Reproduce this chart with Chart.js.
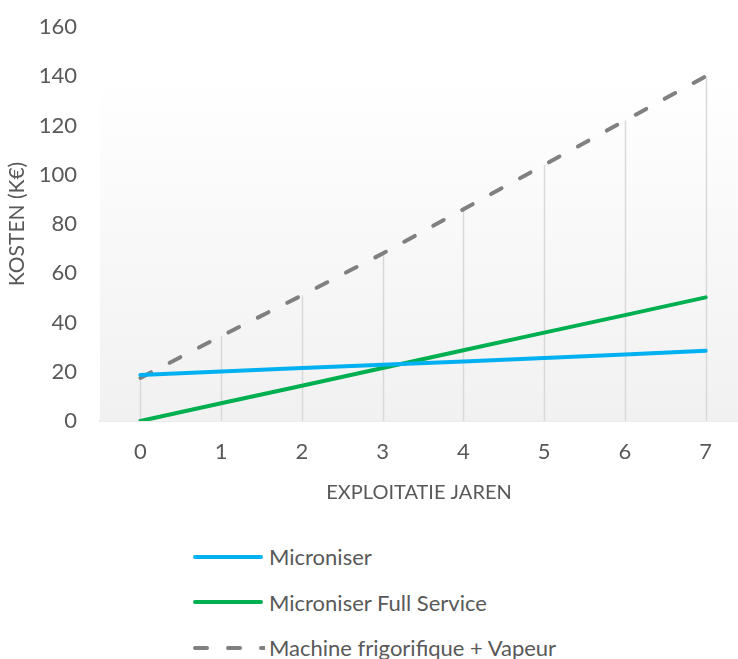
<!DOCTYPE html>
<html>
<head>
<meta charset="utf-8">
<script src="https://cdn.jsdelivr.net/npm/chart.js@4/dist/chart.umd.min.js"></script>
<style>
  html,body{margin:0;padding:0;background:#fff;}
  #wrap{position:relative;width:738px;height:659px;overflow:hidden;}
  #cv{position:absolute;left:0;top:0;}
  #legend{position:absolute;left:193px;top:534px;font-family:Lato,sans-serif;font-size:22px;color:#595959;}
  .li{display:flex;align-items:center;height:45.5px;}
  .li svg{margin-right:4px;}
</style>
</head>
<body>
<div id="wrap">
  <canvas id="cv" width="738" height="525"></canvas>
  <div id="legend"></div>
</div>
<script>
const years = [0,1,2,3,4,5,6,7];
const yTicks = [0,20,40,60,80,100,120,140,160];
const microniser = [18.7,20.1,21.5,22.8,24.2,25.6,27.0,28.5];
const fullService = [0,7.2,14.3,21.5,28.7,35.9,43.0,50.2];
const machine = [17.5,34.5,51,68,86,104,122,140];

const names = ['Microniser','Microniser Full Service','Machine frigorifique + Vapeur'];
const colors = ['#00b0f0','#00b050','#808080'];
const DASH = [12,21];
const FONT = 'Lato';
const TXT = '#595959';

const pts = arr => arr.map((v,i)=>({x:years[i],y:v}));

// plot background + drop lines from the dashed series
const backdrop = {
  id:'backdrop',
  beforeDatasetsDraw(chart){
    const {ctx, chartArea:a, scales:{x,y}} = chart;
    const top = y.getPixelForValue(140);
    const g = ctx.createLinearGradient(0,top,0,a.bottom);
    g.addColorStop(0,'#ffffff'); g.addColorStop(1,'#f1f1f1');
    ctx.save();
    ctx.fillStyle=g;
    ctx.fillRect(a.left,top,a.right-a.left,a.bottom-top);
    ctx.strokeStyle='#d9d9d9'; ctx.lineWidth=1.5;
    machine.forEach((v,i)=>{
      const px=Math.round(x.getPixelForValue(years[i]))+0.5;
      ctx.beginPath(); ctx.moveTo(px,y.getPixelForValue(v)); ctx.lineTo(px,a.bottom); ctx.stroke();
    });
    ctx.restore();
  }
};

new Chart(document.getElementById('cv'),{
  type:'line',
  data:{datasets:[microniser,fullService,machine].map((d,i)=>({
    label:names[i], data:pts(d), borderColor:colors[i], backgroundColor:colors[i],
    borderWidth:4, pointRadius:0, tension:0, borderCapStyle:'round',
    borderDash:i===2?DASH:[]
  }))},
  options:{
    responsive:false, animation:false,
    layout:{padding:{top:27,right:0,left:0,bottom:0}},
    plugins:{legend:{display:false},tooltip:{enabled:false}},
    scales:{
      x:{type:'linear',min:-0.5,max:7.4,
        afterBuildTicks:s=>{s.ticks=years.map(v=>({value:v}));},
        afterFit:s=>{s.height=104;},
        grid:{display:true,color:'rgba(0,0,0,0)',drawTicks:false},
        border:{display:true,color:'#d9d9d9',width:1.5},
        ticks:{padding:18,font:{family:FONT,size:22},color:TXT,callback:v=>String(v),maxRotation:0},
        title:{display:true,text:'EXPLOITATIE JAREN',font:{family:FONT,size:20},color:TXT,padding:{top:10,bottom:20}}
      },
      y:{min:0,max:160,
        afterBuildTicks:s=>{s.ticks=yTicks.map(v=>({value:v}));},
        afterFit:s=>{s.width=100; s.paddingTop=0; s.paddingBottom=0;},
        grid:{display:false,drawTicks:false},
        border:{display:false},
        ticks:{padding:23,font:{family:FONT,size:22},color:TXT},
        title:{display:true,text:'KOSTEN (K€)',font:{family:FONT,size:21},color:TXT,padding:{top:5,bottom:0}}
      }
    }
  },
  plugins:[backdrop]
});

// vertical legend
const lg=document.getElementById('legend');
names.forEach((n,i)=>{
  const row=document.createElement('div'); row.className='li';
  const dash=i===2?`stroke-dasharray="${DASH.join(' ')}"`:'';
  row.innerHTML=`<svg width="72" height="8"><line x1="2" y1="4" x2="${i===2?74:68}" y2="4" stroke="${colors[i]}" stroke-width="4" stroke-linecap="round" ${dash}/></svg><span>${n}</span>`;
  lg.appendChild(row);
});
</script>
</body>
</html>
